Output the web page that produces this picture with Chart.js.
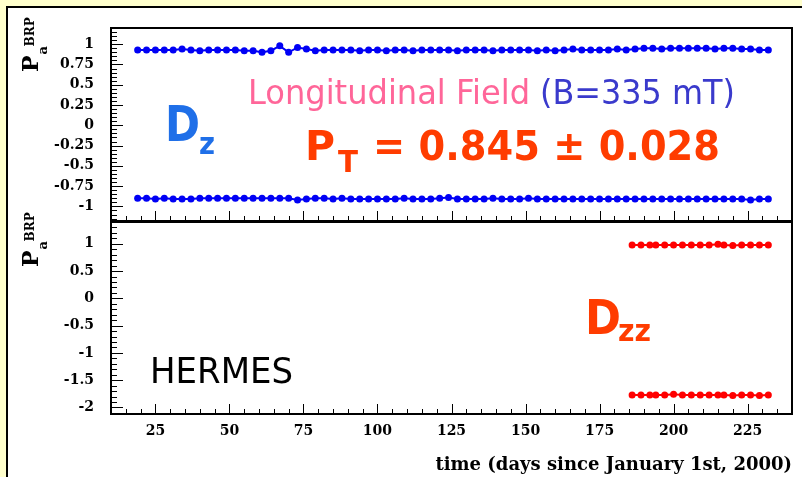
<!DOCTYPE html>
<html>
<head>
<meta charset="utf-8">
<title>Target polarisation vs time</title>
<script src="https://cdn.jsdelivr.net/npm/chart.js@4.4.1/dist/chart.umd.min.js"></script>
<style>
  body { margin: 0; width: 802px; height: 477px; overflow: hidden; position: relative; background: #ffffcc; }
  #sheet { position: absolute; left: 6px; top: 6px; width: 796px; height: 471px; background: #fff;
           border-left: 2px solid #000; border-top: 2px solid #000; box-sizing: border-box; }
  canvas { position: absolute; left: 0; top: 0; }
</style>
</head>
<body>
<div id="sheet"></div>
<canvas id="upper" width="802" height="477"></canvas>
<canvas id="lower" width="802" height="477"></canvas>
<script>
// days since January 1st, 2000
const daysDz = [19, 22, 25, 28, 31, 34, 37, 40, 43, 46, 49, 52, 55, 58, 61, 64, 67, 70, 73, 76, 79, 82, 85, 88,
  91, 94, 97, 100, 103, 106, 109, 112, 115, 118, 121, 124, 127, 130, 133, 136, 139, 142, 145, 148, 151, 154,
  157, 160, 163, 166, 169, 172, 175, 178, 181, 184, 187, 190, 193, 196, 199, 202, 205, 208, 211, 214, 217,
  220, 223, 226, 229, 232];
const dzUpper = [0.93, 0.93, 0.93, 0.93, 0.93, 0.94, 0.93, 0.92, 0.93, 0.93, 0.93, 0.93, 0.92, 0.92, 0.90, 0.92,
  0.98, 0.90, 0.96, 0.94, 0.92, 0.93, 0.93, 0.93,
  0.93, 0.92, 0.93, 0.93, 0.92, 0.93, 0.93, 0.92, 0.93, 0.93, 0.93, 0.93, 0.92, 0.93, 0.93, 0.93, 0.92,
  0.93, 0.93, 0.93, 0.93, 0.92, 0.93, 0.92, 0.93, 0.94, 0.93, 0.93, 0.93, 0.93, 0.94, 0.93, 0.94,
  0.95, 0.95, 0.94, 0.95, 0.95, 0.95, 0.95, 0.95, 0.94, 0.95, 0.95, 0.94, 0.94, 0.93, 0.93];
const dzLower = [-0.90, -0.90, -0.91, -0.90, -0.91, -0.91, -0.91, -0.90, -0.90, -0.90, -0.90, -0.90, -0.90,
  -0.90, -0.90, -0.90, -0.90, -0.90, -0.92, -0.91, -0.90, -0.90, -0.91, -0.90,
  -0.91, -0.91, -0.91, -0.91, -0.91, -0.91, -0.90, -0.91, -0.91, -0.91, -0.90, -0.89, -0.91, -0.91, -0.91,
  -0.91, -0.90, -0.91, -0.91, -0.91, -0.90, -0.91, -0.91, -0.91, -0.91, -0.91, -0.91, -0.91, -0.91, -0.91,
  -0.91, -0.91, -0.91, -0.91, -0.91, -0.91, -0.91, -0.91, -0.91, -0.91, -0.91, -0.91, -0.91, -0.91, -0.91,
  -0.92, -0.91, -0.91];

const daysDzz = [186, 189, 192, 194, 197, 200, 203, 206, 209, 212, 215, 217, 220, 223, 226, 229, 232];
const dzzUpper = [0.98, 0.98, 0.98, 0.98, 0.98, 0.98, 0.98, 0.98, 0.98, 0.98, 0.99, 0.98, 0.97, 0.98, 0.98, 0.98, 0.98];
const dzzLower = [-1.77, -1.77, -1.77, -1.77, -1.77, -1.76, -1.77, -1.77, -1.77, -1.77, -1.77, -1.77, -1.78,
  -1.77, -1.77, -1.78, -1.77];

const xTicks = [25, 50, 75, 100, 125, 150, 175, 200, 225];
const yTicksUpper = [1, 0.75, 0.5, 0.25, 0, -0.25, -0.5, -0.75, -1];
const yTicksLower = [1, 0.5, 0, -0.5, -1, -1.5, -2];

const serif = '"DejaVu Serif", "Liberation Serif", serif';
const sans = '"DejaVu Sans", "Noto Sans", sans-serif';

function points(xs, ys) {
  return xs.map((x, i) => ({ x, y: ys[i] }));
}

function series(data, color) {
  return {
    data, showLine: true, borderColor: color, backgroundColor: color, borderWidth: 2,
    pointRadius: 3.5, pointBorderWidth: 0, pointHoverRadius: 3.5
  };
}

// text squeezed to a given width, baseline at (x, y)
function squeeze(ctx, n) {
  ctx.save();
  ctx.font = `${n.weight} ${n.size}px ${sans}`;
  const w = ctx.measureText(n.text).width;
  ctx.translate(n.x, n.y);
  ctx.scale(n.width / w, 1);
  ctx.fillStyle = n.color;
  ctx.textBaseline = 'alphabetic';
  ctx.fillText(n.text, 0, 0);
  ctx.restore();
}

// vertical "P_a^BRP" axis label, reading bottom to top
function axisTitle(ctx, x, y) {
  ctx.save();
  ctx.translate(x, y);
  ctx.rotate(-Math.PI / 2);
  ctx.fillStyle = '#000';
  ctx.textBaseline = 'alphabetic';
  ctx.font = `bold 22px ${serif}`;
  ctx.fillText('P', 0, 0);
  const w = ctx.measureText('P').width;
  ctx.font = `bold 13px ${serif}`;
  ctx.fillText('a', w + 1, 9);
  ctx.font = `bold 12px ${serif}`;
  ctx.fillText('BRP', w + 9, -4);
  ctx.restore();
}

// box around the pad plus inward major/minor ticks on the left and bottom
const padFrame = {
  id: 'padFrame',
  afterDatasetsDraw(chart, args, o) {
    const { ctx, chartArea: a } = chart;
    const x = chart.scales.x, y = chart.scales.y;
    const each = (scale, minor, major, draw) => {
      const k0 = Math.ceil(scale.min / minor - 1e-6), k1 = Math.floor(scale.max / minor + 1e-6);
      for (let k = k0; k <= k1; k++) {
        const r = k * minor / major;
        draw(scale.getPixelForValue(k * minor), Math.abs(r - Math.round(r)) < 1e-6);
      }
    };
    ctx.save();
    ctx.strokeStyle = '#000';
    ctx.lineWidth = 1;
    ctx.beginPath();
    each(y, o.yMinor, o.yMajor, (p, big) => {
      if (p < a.top + 2 || p > a.bottom - 2) return;
      const py = Math.round(p) + 0.5;
      ctx.moveTo(a.left, py);
      ctx.lineTo(a.left + (big ? 12 : 6), py);
    });
    each(x, 5, 25, (p, big) => {
      if (p < a.left + 2 || p > a.right - 2) return;
      const px = Math.round(p) + 0.5;
      ctx.moveTo(px, a.bottom);
      ctx.lineTo(px, a.bottom - (big ? 10 : 5));
    });
    ctx.stroke();
    ctx.lineWidth = 2;
    ctx.strokeRect(a.left, a.top, a.right - a.left, a.bottom - a.top);
    ctx.restore();
  }
};

const padText = {
  id: 'padText',
  afterDraw(chart, args, o) {
    o.notes.forEach(n => squeeze(chart.ctx, n));
    axisTitle(chart.ctx, 38, o.titleAt);
  }
};

function yAxis(min, max, values) {
  return {
    type: 'linear', min, max,
    afterBuildTicks: s => { s.ticks = values.map(v => ({ value: v })); },
    afterFit: s => { s.width = 111; },
    grid: { display: false, drawTicks: false },
    border: { display: false },
    ticks: { color: '#000', padding: 17, font: { family: serif, size: 14, weight: 'bold' }, callback: v => String(v) }
  };
}

const blue = '#0000f5';
const red = '#ff0000';
const orange = '#ff3c00';

new Chart(document.getElementById('upper'), {
  type: 'scatter',
  data: { datasets: [series(points(daysDz, dzUpper), blue), series(points(daysDz, dzLower), blue)] },
  options: {
    responsive: false, animation: false, devicePixelRatio: 1, events: [],
    layout: { padding: { top: 28, right: 10, bottom: 256, left: 0 } },
    scales: {
      x: { type: 'linear', min: 10, max: 240, display: false },
      y: yAxis(-1.18, 1.2, yTicksUpper)
    },
    plugins: {
      legend: { display: false },
      tooltip: { enabled: false },
      padFrame: { yMinor: 0.05, yMajor: 0.25 },
      padText: {
        titleAt: 72,
        notes: [
          { text: 'Longitudinal Field', x: 248, y: 104, size: 34, width: 282, weight: 'normal', color: '#ff6699' },
          { text: '(B=335 mT)', x: 540, y: 104, size: 34, width: 195, weight: 'normal', color: '#3a3acc' },
          { text: 'P', x: 305, y: 160, size: 41, width: 30, weight: 'bold', color: orange },
          { text: 'T', x: 338, y: 172, size: 30, width: 20, weight: 'bold', color: orange },
          { text: '= 0.845 ± 0.028', x: 373, y: 160, size: 41, width: 347, weight: 'bold', color: orange },
          { text: 'D', x: 165, y: 141, size: 50, width: 35, weight: 'bold', color: '#1f6fe8' },
          { text: 'z', x: 199, y: 154, size: 30, width: 16, weight: 'bold', color: '#1f6fe8' }
        ]
      }
    }
  },
  plugins: [padFrame, padText]
});

new Chart(document.getElementById('lower'), {
  type: 'scatter',
  data: { datasets: [series(points(daysDzz, dzzUpper), red), series(points(daysDzz, dzzLower), red)] },
  options: {
    responsive: false, animation: false, devicePixelRatio: 1, events: [],
    layout: { padding: { top: 222, right: 10, bottom: 0, left: 0 } },
    scales: {
      x: {
        type: 'linear', min: 10, max: 240,
        afterBuildTicks: s => { s.ticks = xTicks.map(v => ({ value: v })); },
        afterFit: s => { s.height = 63; },
        grid: { display: false, drawTicks: false },
        border: { display: false },
        ticks: { color: '#000', padding: 9, maxRotation: 0, autoSkip: false,
                 font: { family: serif, size: 14, weight: 'bold' }, callback: v => String(v) },
        title: { display: true, text: 'time (days since January 1st, 2000)', align: 'end', color: '#000',
                 font: { family: serif, size: 18, weight: 'bold' }, padding: { top: 0, bottom: 1 } }
      },
      y: yAxis(-2.12, 1.4, yTicksLower)
    },
    plugins: {
      legend: { display: false },
      tooltip: { enabled: false },
      padFrame: { yMinor: 0.1, yMajor: 0.5 },
      padText: {
        titleAt: 267,
        notes: [
          { text: 'D', x: 585, y: 334, size: 48, width: 36, weight: 'bold', color: orange },
          { text: 'zz', x: 618, y: 341, size: 30, width: 33, weight: 'bold', color: orange },
          { text: 'HERMES', x: 150, y: 383, size: 36, width: 143, weight: 'normal', color: '#000' }
        ]
      }
    }
  },
  plugins: [padFrame, padText]
});
</script>
</body>
</html>
